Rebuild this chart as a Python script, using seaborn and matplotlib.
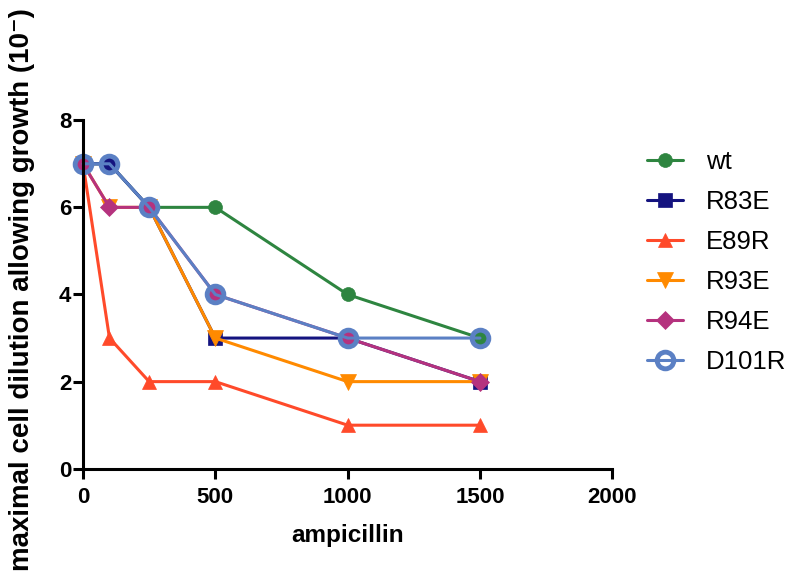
import numpy as np
import pandas as pd
import matplotlib
matplotlib.use("Agg")
import matplotlib.pyplot as plt
import seaborn as sns

sns.set_style("ticks")
plt.rcParams['font.family'] = ['Liberation Sans', 'DejaVu Sans']
plt.rcParams['text.color'] = 'black'
plt.rcParams['axes.labelcolor'] = 'black'

# ampicillin concentrations
ampicillin = [0, 100, 250, 500, 1000, 1500]

# maximal cell dilution allowing growth per strain
wt = [7, 7, 6, 6, 4, 3]
r83e = [7, 7, 6, 3, 3, 2]
e89r = [7, 3, 2, 2, 1, 1]
r93e = [7, 6, 6, 3, 2, 2]
r94e = [7, 6, 6, 4, 3, 2]
d101r = [7, 7, 6, 4, 3, 3]

strains = ['wt', 'R83E', 'E89R', 'R93E', 'R94E', 'D101R']
values = [wt, r83e, e89r, r93e, r94e, d101r]

colors = ['#2e8540', '#14137f', '#ff4a2a', '#ff8a00', '#b5327e', '#5b80c4']
markers = ['o', 's', '^', 'v', 'D', 'o']
sizes = [10, 10, 10, 11, 9, 12]

fig = plt.figure(figsize=(8.02, 5.78), dpi=100)
ax = fig.add_axes([0.1035, 0.189, 0.66, 0.603])

for name, vals, c, m, ms in zip(strains, values, colors, markers, sizes):
    df = pd.DataFrame({'ampicillin': ampicillin, 'dilution': vals})
    if name == 'D101R':
        sns.lineplot(data=df, x='ampicillin', y='dilution', ax=ax, color=c,
                     marker=m, markersize=ms, markerfacecolor='none',
                     markeredgecolor=c, markeredgewidth=3.5, linewidth=2.2,
                     label=name, clip_on=False)
    else:
        sns.lineplot(data=df, x='ampicillin', y='dilution', ax=ax, color=c,
                     marker=m, markersize=ms, markerfacecolor=c,
                     markeredgecolor=c, markeredgewidth=0.5, linewidth=2.2,
                     label=name, clip_on=False)

ax.set_xlim(0, 2000)
ax.set_ylim(0, 8)
ax.set_xticks([0, 500, 1000, 1500, 2000])
ax.set_yticks([0, 2, 4, 6, 8])
sns.despine(ax=ax)
for s in ['left', 'bottom']:
    ax.spines[s].set_linewidth(2.2)
    ax.spines[s].set_color('black')
ax.tick_params(direction='out', length=7, width=2.2, colors='black', labelsize=16)
ax.tick_params(axis='x', pad=6)
ax.tick_params(axis='y', pad=1.5)
for lab in ax.get_xticklabels() + ax.get_yticklabels():
    lab.set_fontweight('bold')

ax.set_xlabel('ampicillin', fontsize=17.5, fontweight='bold', labelpad=12)
ax.set_ylabel('maximal cell dilution allowing growth (10\u207b)', fontsize=20, fontweight='bold')
ax.yaxis.set_label_coords(-0.091, 0.513)

leg = ax.legend(loc='upper left', bbox_to_anchor=(0.8067, 0.7405), bbox_transform=fig.transFigure,
                frameon=False, fontsize=18.5, handlelength=1.4, handletextpad=0.9,
                labelspacing=0.62, borderaxespad=0, borderpad=0)

fig.savefig('out.png', dpi=100)
